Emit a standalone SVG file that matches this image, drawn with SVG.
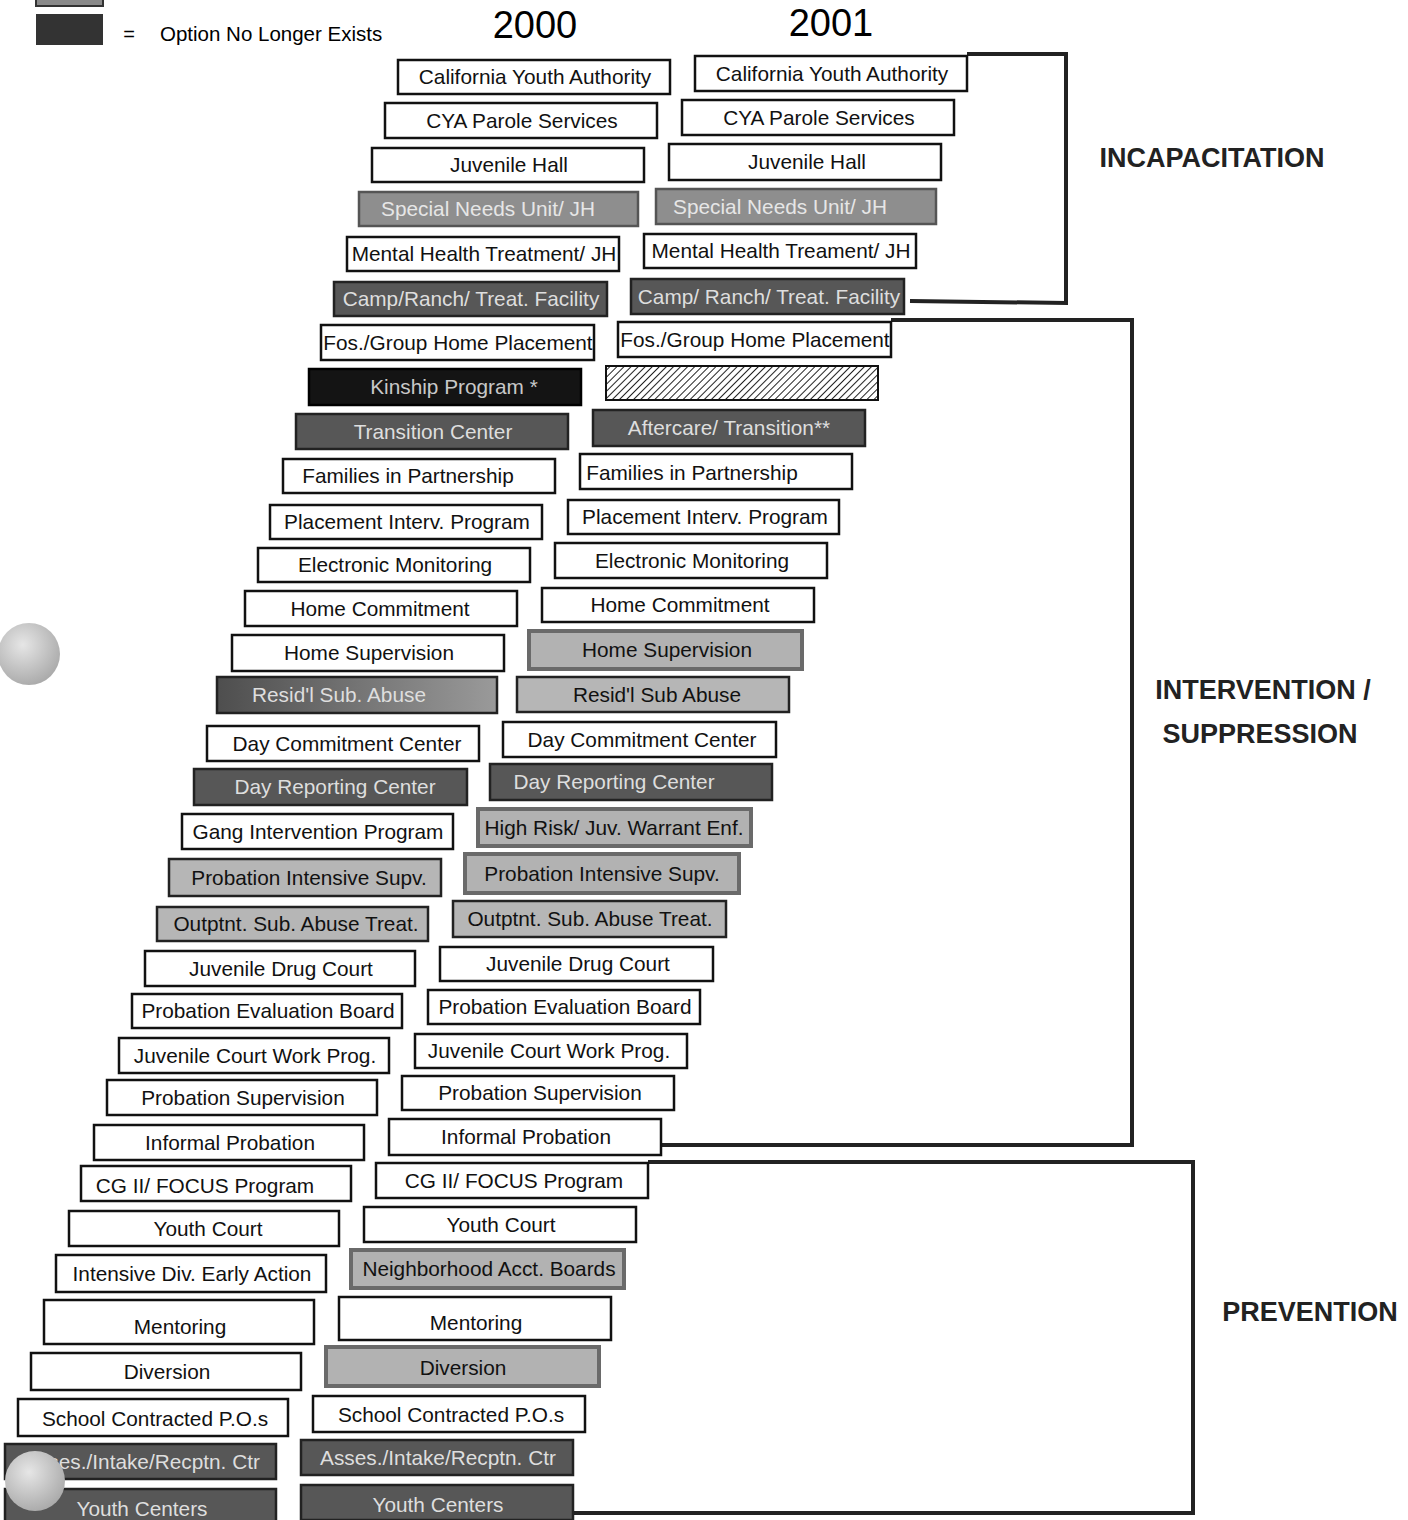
<svg xmlns="http://www.w3.org/2000/svg" width="1408" height="1520" viewBox="0 0 1408 1520">
<defs>
<style>
text{font-family:"Liberation Sans",Arial,sans-serif;font-size:20.8px;text-anchor:middle}
.w rect{fill:#fff;stroke:#111;stroke-width:2.5}
.lg rect{fill:#b6b6b6;stroke:#222;stroke-width:2.5}
.lg2 rect{fill:#b2b2b2;stroke:#6a6a6a;stroke-width:4}
.mg rect{fill:#8e8e8e;stroke:#555;stroke-width:2.5}
.dg rect{fill:#575757;stroke:#222;stroke-width:2.5}
.rs rect{fill:url(#rsg);stroke:#222;stroke-width:2.5}
.bk rect{fill:#141414;stroke:#000;stroke-width:2.5}
.ht rect{fill:url(#hatch);stroke:#111;stroke-width:2}
.w text,.lg text,.lg2 text{fill:#111}
.mg text{fill:#e6e6e6}
.dg text,.rs text{fill:#dedede}
.bk text{fill:#c8c8c8}
.br{fill:none;stroke:#222;stroke-width:4}
.lbl{font-weight:bold;font-size:27px;fill:#222}
</style>
<pattern id="hatch" width="5" height="5" patternUnits="userSpaceOnUse" patternTransform="rotate(45)">
<rect width="5" height="5" fill="#fff"/>
<line x1="0" y1="0" x2="0" y2="5" stroke="#222" stroke-width="2"/>
</pattern>
<linearGradient id="rsg" x1="0" y1="0" x2="1" y2="0">
<stop offset="0" stop-color="#4e4e4e"/>
<stop offset="1" stop-color="#9a9a9a"/>
</linearGradient>
<radialGradient id="ball" cx="0.4" cy="0.35" r="0.7">
<stop offset="0" stop-color="#e6e6e6"/>
<stop offset="1" stop-color="#a8a8a8"/>
</radialGradient>
</defs>
<rect width="1408" height="1520" fill="#fff"/>

<g id="legend">
<rect x="36" y="-20" width="67" height="26" fill="#8a8a8a" stroke="#333" stroke-width="2"/>
<rect x="36" y="14" width="67" height="31" fill="#333"/>
<text x="129" y="41" style="font-size:20px">=</text>
<text x="160" y="41" style="text-anchor:start;font-size:20.5px">Option No Longer Exists</text>
</g>
<g id="years">
<text x="535" y="38" style="font-size:38px">2000</text>
<text x="831" y="36" style="font-size:38px">2001</text>
</g>

<g id="connectors">
<polyline class="br" points="967,54 1066,54 1066,303 910,301"/>
<polyline class="br" points="891,320 1132,320 1132,1145 661,1145"/>
<polyline class="br" points="648,1162 1193,1162 1193,1513 573,1513"/>
</g>

<g id="labels">
<text class="lbl" x="1212" y="167">INCAPACITATION</text>
<text class="lbl" x="1263" y="699">INTERVENTION /</text>
<text class="lbl" x="1260" y="743">SUPPRESSION</text>
<text class="lbl" x="1310" y="1321">PREVENTION</text>
</g>

<g id="col2000">
<g id="L1" class="w"><rect x="398" y="60" width="272" height="34"/><text x="535" y="84">California Youth Authority</text></g>
<g id="L2" class="w"><rect x="385" y="103" width="272" height="35"/><text x="522" y="128">CYA Parole Services</text></g>
<g id="L3" class="w"><rect x="372" y="148" width="272" height="34"/><text x="509" y="172">Juvenile Hall</text></g>
<g id="L4" class="mg"><rect x="359" y="192" width="279" height="34"/><text x="488" y="216">Special Needs Unit/ JH</text></g>
<g id="L5" class="w"><rect x="347" y="237" width="272" height="34"/><text x="484" y="261">Mental Health Treatment/ JH</text></g>
<g id="L6" class="dg"><rect x="334" y="282" width="273" height="34"/><text x="471" y="306">Camp/Ranch/ Treat. Facility</text></g>
<g id="L7" class="w"><rect x="321" y="325" width="273" height="35"/><text x="458" y="350">Fos./Group Home Placement</text></g>
<g id="L8" class="bk"><rect x="309" y="369" width="272" height="36"/><text x="454" y="394">Kinship Program  *</text></g>
<g id="L9" class="dg"><rect x="296" y="414" width="272" height="35"/><text x="433" y="439">Transition Center</text></g>
<g id="L10" class="w"><rect x="283" y="459" width="272" height="34"/><text x="408" y="483">Families in Partnership</text></g>
<g id="L11" class="w"><rect x="270" y="505" width="272" height="34"/><text x="407" y="529">Placement Interv. Program</text></g>
<g id="L12" class="w"><rect x="258" y="548" width="272" height="34"/><text x="395" y="572">Electronic Monitoring</text></g>
<g id="L13" class="w"><rect x="245" y="591" width="272" height="35"/><text x="380" y="616">Home Commitment</text></g>
<g id="L14" class="w"><rect x="232" y="635" width="272" height="36"/><text x="369" y="660">Home Supervision</text></g>
<g id="L15" class="rs"><rect x="217" y="677" width="280" height="36"/><text x="339" y="702">Resid'l Sub. Abuse</text></g>
<g id="L16" class="w"><rect x="207" y="726" width="272" height="35"/><text x="347" y="751">Day Commitment Center</text></g>
<g id="L17" class="dg"><rect x="194" y="769" width="273" height="36"/><text x="335" y="794">Day Reporting Center</text></g>
<g id="L18" class="w"><rect x="182" y="814" width="271" height="35"/><text x="318" y="839">Gang Intervention Program</text></g>
<g id="L19" class="lg"><rect x="169" y="859" width="272" height="37"/><text x="309" y="885">Probation Intensive Supv.</text></g>
<g id="L20" class="lg"><rect x="157" y="907" width="271" height="34"/><text x="296" y="931">Outptnt. Sub. Abuse Treat.</text></g>
<g id="L21" class="w"><rect x="145" y="951" width="270" height="35"/><text x="281" y="976">Juvenile Drug Court</text></g>
<g id="L22" class="w"><rect x="132" y="994" width="270" height="34"/><text x="268" y="1018">Probation Evaluation Board</text></g>
<g id="L23" class="w"><rect x="119" y="1038" width="270" height="35"/><text x="255" y="1063">Juvenile Court Work Prog.</text></g>
<g id="L24" class="w"><rect x="107" y="1080" width="270" height="35"/><text x="243" y="1105">Probation Supervision</text></g>
<g id="L25" class="w"><rect x="94" y="1125" width="270" height="35"/><text x="230" y="1150">Informal Probation</text></g>
<g id="L26" class="w"><rect x="81" y="1166" width="270" height="35"/><text x="205" y="1193">CG II/ FOCUS Program</text></g>
<g id="L27" class="w"><rect x="69" y="1211" width="270" height="35"/><text x="208" y="1236">Youth Court</text></g>
<g id="L28" class="w"><rect x="56" y="1255" width="270" height="37"/><text x="192" y="1281">Intensive Div. Early Action</text></g>
<g id="L29" class="w"><rect x="44" y="1300" width="270" height="44"/><text x="180" y="1334">Mentoring</text></g>
<g id="L30" class="w"><rect x="31" y="1353" width="270" height="37"/><text x="167" y="1379">Diversion</text></g>
<g id="L31" class="w"><rect x="18" y="1399" width="270" height="37"/><text x="155" y="1426">School Contracted P.O.s</text></g>
<g id="L32" class="dg"><rect x="5" y="1444" width="271" height="35"/><text x="142" y="1469">Asses./Intake/Recptn. Ctr</text></g>
<g id="L33" class="dg"><rect x="5" y="1489" width="271" height="35"/><text x="142" y="1516">Youth Centers</text></g>
</g>

<g id="col2001">
<g id="R1" class="w"><rect x="695" y="56" width="272" height="35"/><text x="832" y="81">California Youth Authority</text></g>
<g id="R2" class="w"><rect x="682" y="100" width="272" height="35"/><text x="819" y="125">CYA Parole Services</text></g>
<g id="R3" class="w"><rect x="669" y="144" width="272" height="36"/><text x="807" y="169">Juvenile Hall</text></g>
<g id="R4" class="mg"><rect x="656" y="189" width="280" height="35"/><text x="780" y="214">Special Needs Unit/ JH</text></g>
<g id="R5" class="w"><rect x="644" y="234" width="272" height="34"/><text x="781" y="258">Mental Health Treament/ JH</text></g>
<g id="R6" class="dg"><rect x="631" y="279" width="273" height="35"/><text x="769" y="304">Camp/ Ranch/ Treat. Facility</text></g>
<g id="R7" class="w"><rect x="618" y="322" width="273" height="35"/><text x="755" y="347">Fos./Group Home Placement</text></g>
<g id="R8" class="ht"><rect x="606" y="366" width="272" height="34"/></g>
<g id="R9" class="dg"><rect x="593" y="410" width="272" height="36"/><text x="729" y="435">Aftercare/ Transition**</text></g>
<g id="R10" class="w"><rect x="580" y="454" width="272" height="35"/><text x="692" y="480">Families in Partnership</text></g>
<g id="R11" class="w"><rect x="568" y="500" width="271" height="34"/><text x="705" y="524">Placement Interv. Program</text></g>
<g id="R12" class="w"><rect x="555" y="543" width="272" height="35"/><text x="692" y="568">Electronic Monitoring</text></g>
<g id="R13" class="w"><rect x="542" y="588" width="272" height="34"/><text x="680" y="612">Home Commitment</text></g>
<g id="R14" class="lg2"><rect x="529" y="631" width="273" height="38"/><text x="667" y="657">Home Supervision</text></g>
<g id="R15" class="lg"><rect x="517" y="677" width="272" height="35"/><text x="657" y="702">Resid'l Sub Abuse</text></g>
<g id="R16" class="w"><rect x="503" y="722" width="273" height="35"/><text x="642" y="747">Day Commitment Center</text></g>
<g id="R17" class="dg"><rect x="490" y="764" width="282" height="36"/><text x="614" y="789">Day Reporting Center</text></g>
<g id="R18" class="lg2"><rect x="478" y="809" width="273" height="37"/><text x="614" y="835">High Risk/ Juv. Warrant Enf.</text></g>
<g id="R19" class="lg2"><rect x="465" y="854" width="274" height="39"/><text x="602" y="881">Probation Intensive Supv.</text></g>
<g id="R20" class="lg"><rect x="453" y="901" width="273" height="36"/><text x="590" y="926">Outptnt. Sub. Abuse Treat.</text></g>
<g id="R21" class="w"><rect x="440" y="947" width="273" height="34"/><text x="578" y="971">Juvenile Drug Court</text></g>
<g id="R22" class="w"><rect x="428" y="990" width="272" height="34"/><text x="565" y="1014">Probation Evaluation Board</text></g>
<g id="R23" class="w"><rect x="415" y="1034" width="272" height="34"/><text x="549" y="1058">Juvenile Court Work Prog.</text></g>
<g id="R24" class="w"><rect x="402" y="1076" width="272" height="34"/><text x="540" y="1100">Probation Supervision</text></g>
<g id="R25" class="w"><rect x="389" y="1119" width="272" height="36"/><text x="526" y="1144">Informal Probation</text></g>
<g id="R26" class="w"><rect x="376" y="1163" width="272" height="35"/><text x="514" y="1188">CG II/ FOCUS Program</text></g>
<g id="R27" class="w"><rect x="364" y="1207" width="272" height="35"/><text x="501" y="1232">Youth Court</text></g>
<g id="R28" class="lg2"><rect x="351" y="1250" width="273" height="38"/><text x="489" y="1276">Neighborhood Acct. Boards</text></g>
<g id="R29" class="w"><rect x="339" y="1297" width="272" height="43"/><text x="476" y="1330">Mentoring</text></g>
<g id="R30" class="lg2"><rect x="326" y="1347" width="273" height="39"/><text x="463" y="1375">Diversion</text></g>
<g id="R31" class="w"><rect x="313" y="1396" width="272" height="36"/><text x="451" y="1422">School Contracted P.O.s</text></g>
<g id="R32" class="dg"><rect x="301" y="1440" width="272" height="35"/><text x="438" y="1465">Asses./Intake/Recptn. Ctr</text></g>
<g id="R33" class="dg"><rect x="301" y="1485" width="272" height="35"/><text x="438" y="1512">Youth Centers</text></g>
</g>

<g id="marks">
<circle cx="29" cy="654" r="31" fill="url(#ball)"/>
<circle cx="35" cy="1481" r="30" fill="url(#ball)"/>
</g>
</svg>
